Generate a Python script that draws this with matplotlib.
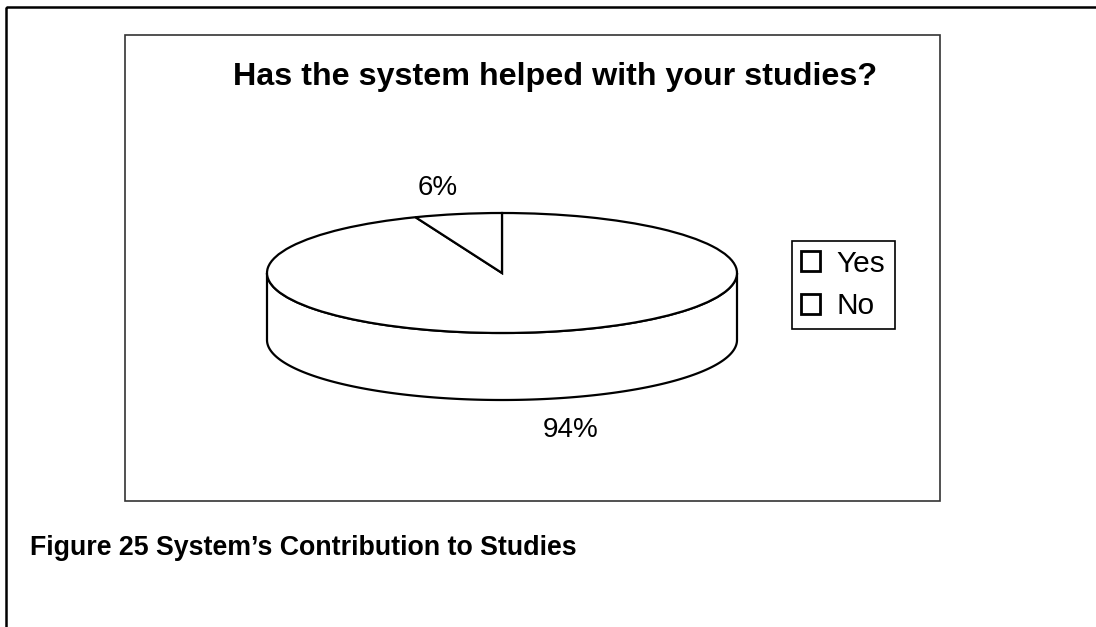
import numpy as np
import matplotlib
matplotlib.use("Agg")
import matplotlib.pyplot as plt
from matplotlib.patches import Rectangle, Polygon

plt.rcParams['font.family'] = ['Liberation Sans', 'DejaVu Sans']

# survey answers
answers = ['Yes', 'No']
shares = [94, 6]
chart_title = 'Has the system helped with your studies?'
caption = 'Figure 25 System\u2019s Contribution to Studies'

W, H = 1096, 627
fig = plt.figure(figsize=(W / 100, H / 100), dpi=100)

# page layer in pixel units (frames, title, caption)
bg = fig.add_axes([0, 0, 1, 1])
bg.set_xlim(0, W)
bg.set_ylim(H, 0)
bg.axis('off')
bg.add_patch(Rectangle((6, 7), W + 20, H + 20, fill=False, ec='black', lw=1.8))
bg.add_patch(Rectangle((125, 35), 815, 466, fill=False, ec='#333333', lw=1.2))
bg.text(555, 77, chart_title, ha='center', va='center', fontsize=23.2,
        fontweight='bold')
bg.text(30, 548, caption, ha='left', va='center', fontsize=19.3,
        fontweight='bold')

# pie layer: x unit = horizontal radius, y unit = vertical radius of the disc
cx, cy, rx, ry = 502, 273, 235, 60
depth = 67 / ry
x0, x1 = -1.2, 1.2
y0, y1 = -3.0, 1.8
ax = fig.add_axes([(cx + x0 * rx) / W, 1 - (cy - y0 * ry) / H,
                   (x1 - x0) * rx / W, (y1 - y0) * ry / H])

# front wall of the disc
t = np.linspace(np.pi, 2 * np.pi, 200)
side = np.concatenate([np.column_stack([np.cos(t), np.sin(t)]),
                       np.column_stack([np.cos(t[::-1]), np.sin(t[::-1]) - depth])])
ax.add_patch(Polygon(side, closed=True, fc='white', ec='black', lw=1.6, zorder=1))

wedges, _, pcts = ax.pie(shares, startangle=90, counterclock=False,
                         colors=['white', 'white'], autopct='%1.0f%%',
                         pctdistance=1.45, labeldistance=None,
                         wedgeprops=dict(ec='black', lw=1.6),
                         textprops=dict(fontsize=20))
for w in wedges:
    w.set_zorder(2)
for p in pcts:
    px, py = p.get_position()
    if py < 0:
        # bottom labels sit below the wall of the disc
        p.set_position((px + 0.02, py - depth - 0.07))

ax.set_aspect('auto')
ax.set_xlim(x0, x1)
ax.set_ylim(y0, y1)
ax.axis('off')

leg = fig.legend(wedges, answers, loc='center left',
                 bbox_to_anchor=(792 / W, 1 - 285 / H), frameon=True,
                 fancybox=False, edgecolor='black', framealpha=1, fontsize=21.5,
                 handlelength=0.65, handleheight=0.65, handletextpad=0.55,
                 borderpad=0.3, labelspacing=0.5, borderaxespad=0)
leg.get_frame().set_linewidth(1.2)
for h in leg.legend_handles:
    h.set_linewidth(2.0)

fig.savefig('out.png', dpi=100, facecolor='white')
